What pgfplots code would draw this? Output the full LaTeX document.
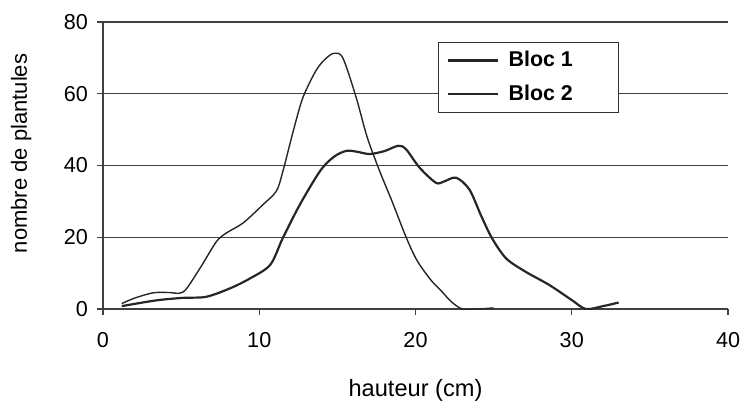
\documentclass[border=0pt]{standalone}
\usepackage{fontspec}
\setmainfont{Liberation Sans}
\usepackage{pgfplots}
\pgfplotsset{compat=1.18}
\begin{document}
\begin{tikzpicture}
\path[use as bounding box] (-51.5pt,-46pt) rectangle (319.5pt,154.5pt);
\begin{axis}[
  at={(0,0)}, anchor=south west,
  scale only axis, width=312.5pt, height=143.5pt,
  xmin=0, xmax=40, ymin=0, ymax=80,
  axis x line*=bottom, axis y line*=left,
  xtick={0,10,20,30,40}, ytick={0,20,40,60,80},
  tick align=outside, major tick length=3pt,
  tick style={black!75, line width=0.6pt},
  axis line style={black!75, line width=0.7pt},
  ymajorgrids, major grid style={black!75, line width=0.7pt},
  /pgf/number format/assume math mode=true,
  tick label style={font=\fontsize{10.8}{13}\selectfont},
  xticklabel style={anchor=center, yshift=-12.5pt},
  yticklabel style={xshift=-1pt},
  xlabel={hauteur (cm)}, ylabel={nombre de plantules},
  xlabel style={font=\fontsize{11.8}{14}\selectfont, at={(axis description cs:0.5,-0.282)}, anchor=center},
  ylabel style={font=\fontsize{11}{13}\selectfont, at={(axis description cs:-0.131,0.542)}, anchor=center, rotate=0},
  legend style={at={(axis cs:21.43,74.5)}, anchor=north west, draw=black!80, line width=0.6pt, fill=white,
    font=\fontsize{10.7}{13}\selectfont\bfseries, inner xsep=4pt, inner ysep=2.5pt, row sep=3.5pt, column sep=3pt},
  legend cell align=left,
  legend image code/.code={\draw[#1] (0pt,0pt) -- (25pt,0pt);},
]
\addplot[black!85, line width=1.1pt, smooth, tension=0.5] coordinates {
(1.2,0.8) (3.4,2.4) (5.1,3.1) (6.6,3.4) (8.1,5.7) (9.4,8.5) (10.7,12.3) (11.5,19.7) (12.6,29.1) (13.9,38.5) (14.8,42.5) (15.6,44.1) (16.3,43.8) (17.06,43.2) (18,44) (18.9,45.5) (19.4,44.5) (20.26,39.4) (21.3,35.2) (21.8,35.5) (22.6,36.6) (23.45,33.3) (24.2,26) (24.9,19.7) (25.8,14.1) (27,10.5) (28.56,6.7) (30,2.5) (30.9,0) (32,0.8) (33,1.8)
};
\addlegendentry{Bloc 1\hspace*{17pt}}
\addplot[black!85, line width=0.7pt, smooth, tension=0.5] coordinates {
(1.2,1.5) (2,3) (3.2,4.5) (4.2,4.6) (4.9,4.4) (5.35,5.7) (6.3,12) (7.26,18.8) (7.9,21.2) (8.97,24) (10.24,29.1) (11.1,32.9) (11.52,38.5) (12.2,50) (12.8,59) (13.65,66.6) (14.3,70) (14.82,71.3) (15.36,69.9) (16.2,59) (16.9,48) (17.7,38.5) (18.5,30) (19.4,20) (20.1,13.5) (21,8) (21.7,4.8) (22.3,2) (23,0) (24,0) (25,0.3)
};
\addlegendentry{Bloc 2\hspace*{17pt}}
\end{axis}
\end{tikzpicture}
\end{document}
